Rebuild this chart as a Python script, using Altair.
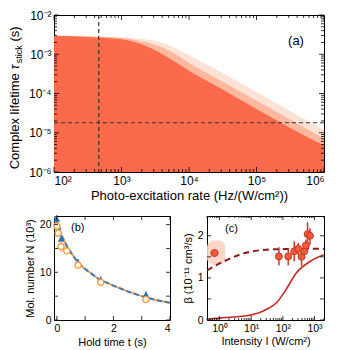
import altair as alt
import pandas as pd

# ---------------- data: panel (a) ----------------
rate = [1e2, 3.16e2, 1e3, 1.78e3, 3.16e3, 5.62e3, 1e4, 3.16e4, 1e5, 3.16e5, 1e6]
tau_dark = [2.95e-3, 2.75e-3, 2.40e-3, 1.91e-3, 1.26e-3, 7.1e-4, 3.8e-4, 1.26e-4, 4.0e-5, 1.32e-5, 4.7e-6]
tau_mid = [2.95e-3, 2.85e-3, 2.63e-3, 2.24e-3, 1.74e-3, 1.12e-3, 6.0e-4, 2.0e-4, 6.6e-5, 2.19e-5, 7.1e-6]
tau_light = [2.95e-3, 2.88e-3, 2.69e-3, 2.51e-3, 2.19e-3, 1.58e-3, 9.5e-4, 3.3e-4, 1.10e-4, 3.6e-5, 1.17e-5]
rate_marker = 460
tau_marker = 1.8e-5

# ---------------- data: panel (b) ----------------
hold_t = [0, 0.05, 0.15, 0.35, 0.75, 1.55, 3.15]
n_blue = [21.2, 19.6, 17.0, 15.0, 12.2, 8.5, 5.4]
n_blue_err = [0.8, 0.8, 0.7, 0.6, 0.6, 0.6, 0.6]
n_orange = [19.7, 18.2, 15.4, 14.5, 11.5, 7.9, 4.3]
n_orange_err = [0.5, 0.5, 1.2, 0.6, 0.5, 0.5, 0.4]
fit_t = [-0.1, 0, 0.1, 0.2, 0.4, 0.75, 1.0, 1.5, 2.0, 2.5, 3.0, 3.5, 4.0]
fit_n = [22.4, 20.5, 18.7, 17.3, 15.0, 12.0, 10.7, 8.5, 7.2, 6.0, 5.0, 4.2, 3.6]

# ---------------- data: panel (c) ----------------
intensity = [0.69, 75, 148, 229, 307, 390, 475, 535, 605, 720]
beta = [1.59, 1.51, 1.51, 1.63, 1.69, 1.50, 1.63, 1.77, 2.04, 2.00]
beta_lo = [1.55, 1.30, 1.30, 1.39, 1.55, 1.28, 1.47, 1.63, 1.75, 1.79]
beta_hi = [1.63, 1.73, 1.67, 1.87, 1.83, 1.67, 1.75, 1.91, 2.32, 2.18]
i_err_lo = [0.52]
i_err_hi = [0.92]
band_i = [0.4, 1.5]
band_beta = [1.31, 1.89]
dash_i = [0.4, 1.44, 4.3, 11, 30, 100, 300, 2000]
dash_beta = [1.18, 1.40, 1.55, 1.63, 1.67, 1.685, 1.69, 1.69]
solid_i = [0.4, 1.13, 2.6, 11.5, 30, 63, 125, 270, 720, 2000]
solid_beta = [0.02, 0.05, 0.07, 0.13, 0.25, 0.41, 0.72, 1.12, 1.39, 1.55]

# ---------------- tick positions ----------------
a_x_major = [1e2, 1e3, 1e4, 1e5, 1e6]
a_x_minor = [k * 10.0 ** d for d in range(2, 6) for k in range(2, 10)]
a_y_major = [1e-6, 1e-5, 1e-4, 1e-3, 1e-2]
a_y_minor = [k * 10.0 ** d for d in range(-6, -2) for k in range(2, 10)]
b_x_major = [0, 1, 2, 3, 4]
b_y_major = [0, 5, 10, 15, 20]
c_x_major = [1, 10, 100, 1000]
c_x_minor = [k * 10.0 ** d for d in range(-1, 4) for k in range(2, 10) if 0.4 <= k * 10.0 ** d <= 2000]
c_y_major = [0, 0.5, 1, 1.5, 2]

FONT = "Liberation Sans"
SUP = str.maketrans("-0123456789", "⁻⁰¹²³⁴⁵⁶⁷⁸⁹")


def pow10_expr(exps):
    expr = "''"
    for e in exps:
        expr = f"round(log(datum.value)/LN10) == {e} ? '10{str(e).translate(SUP)}' : " + expr
    return expr


def frame_ticks(xs, ys, W, H, xmaj, xmin, ymaj, ymin, Lmaj, Lmin):
    out = []
    for vals, L in [(xmaj, Lmaj), (xmin, Lmin)]:
        if not vals:
            continue
        base = alt.Chart(pd.DataFrame({"v": vals})).mark_rule(color="black", strokeWidth=0.8)
        out.append(base.encode(x=alt.X("v:Q", scale=xs), y=alt.value(H - L), y2=alt.value(H)))
        out.append(base.encode(x=alt.X("v:Q", scale=xs), y=alt.value(0), y2=alt.value(L)))
    for vals, L in [(ymaj, Lmaj), (ymin, Lmin)]:
        if not vals:
            continue
        base = alt.Chart(pd.DataFrame({"v": vals})).mark_rule(color="black", strokeWidth=0.8)
        out.append(base.encode(y=alt.Y("v:Q", scale=ys), x=alt.value(0), x2=alt.value(L)))
        out.append(base.encode(y=alt.Y("v:Q", scale=ys), x=alt.value(W - L), x2=alt.value(W)))
    return out


def text_at(label, x, y, size, **kw):
    return alt.Chart(pd.DataFrame({"t": [label]})).mark_text(
        font=FONT, fontSize=size, color="black", **kw
    ).encode(text="t:N", x=alt.value(x), y=alt.value(y))


# ================= panel (a) =================
WA, HA = 270, 157
xa = alt.Scale(type="log", domain=[1e2, 1e6], nice=False)
ya = alt.Scale(type="log", domain=[1e-6, 1e-2], nice=False)
df_a = pd.DataFrame({"rate": rate, "dark": tau_dark, "mid": tau_mid, "light": tau_light})

x_axis_a = alt.Axis(values=a_x_major, labelExpr=pow10_expr([2, 3, 4, 5, 6]), title="Photo-excitation rate (Hz/(W/cm²))",
                    labelFontSize=12, titleFontSize=13, labelPadding=3, titlePadding=3)
y_axis_a = alt.Axis(values=a_y_major, labelExpr=pow10_expr([-6, -5, -4, -3, -2]), title="",
                    labelFontSize=12, labelPadding=3)

areas = []
for col, colr, first in [("light", "#fde3d6", True), ("mid", "#fcb99f", False), ("dark", "#fb6a4a", False)]:
    if first:
        xe = alt.X("rate:Q", scale=xa, axis=x_axis_a)
        ye = alt.Y(f"{col}:Q", scale=ya, axis=y_axis_a)
    else:
        xe = alt.X("rate:Q", scale=xa)
        ye = alt.Y(f"{col}:Q", scale=ya)
    areas.append(alt.Chart(df_a).mark_area(interpolate="monotone", color=colr, opacity=1, clip=True).encode(
        x=xe, y=ye, y2=alt.datum(1e-6)))

vline = alt.Chart(pd.DataFrame({"r": [rate_marker]})).mark_rule(color="#333333", strokeDash=[4, 3], strokeWidth=1.2).encode(
    x=alt.X("r:Q", scale=xa))
hline = alt.Chart(pd.DataFrame({"tm": [tau_marker]})).mark_rule(color="#333333", strokeDash=[4, 3], strokeWidth=1.2).encode(
    y=alt.Y("tm:Q", scale=ya))

title_a = [
    text_at("Complex lifetime", -39, 154.3, 13, angle=270, align="left", baseline="middle"),
    text_at("τ", -39, 54.6, 13, angle=270, align="left", baseline="middle", fontStyle="italic"),
    text_at("stick", -35, 48.2, 9, angle=270, align="left", baseline="middle"),
    text_at("(s)", -39, 26.6, 13, angle=270, align="left", baseline="middle"),
]

panel_a = alt.layer(
    *areas, vline, hline,
    *frame_ticks(xa, ya, WA, HA, a_x_major, a_x_minor, a_y_major, a_y_minor, 5, 3),
    text_at("(a)", 242, 26, 13, align="center", baseline="middle"),
    *title_a,
).properties(width=WA, height=HA)

# ================= panel (b) =================
WB, HB = 116, 104
xb = alt.Scale(domain=[-0.1, 4], nice=False, zero=False)
yb = alt.Scale(domain=[0, 21.8], nice=False)
BLUE = "#2f6fab"
ORANGE = "#f5a04a"
df_b = pd.DataFrame({
    "t": hold_t,
    "nb": n_blue, "nb_lo": [v - e for v, e in zip(n_blue, n_blue_err)], "nb_hi": [v + e for v, e in zip(n_blue, n_blue_err)],
    "no": n_orange, "no_lo": [v - e for v, e in zip(n_orange, n_orange_err)], "no_hi": [v + e for v, e in zip(n_orange, n_orange_err)],
})
df_bf = pd.DataFrame({"t": fit_t, "n": fit_n})

bx_axis = alt.Axis(values=[0, 2, 4], title="Hold time t (s)", labelFontSize=10.5, titleFontSize=11, labelPadding=3, titlePadding=3)
by_axis = alt.Axis(values=[0, 10, 20], title="Mol. number N (10³)", labelFontSize=10.5, titleFontSize=11, labelPadding=3, titlePadding=4)

fit_orange = alt.Chart(df_bf).mark_line(color=ORANGE, strokeWidth=2, clip=True).encode(
    x=alt.X("t:Q", scale=xb, axis=bx_axis), y=alt.Y("n:Q", scale=yb, axis=by_axis))
fit_blue = alt.Chart(df_bf).mark_line(color="#3b7cbc", strokeWidth=2, strokeDash=[5, 3], clip=True).encode(
    x=alt.X("t:Q", scale=xb), y=alt.Y("n:Q", scale=yb))
err_blue = alt.Chart(df_b).mark_rule(color=BLUE, strokeWidth=1.2).encode(
    x=alt.X("t:Q", scale=xb), y=alt.Y("nb_lo:Q", scale=yb), y2="nb_hi:Q")
pts_blue = alt.Chart(df_b).mark_point(shape="triangle-up", filled=True, color=BLUE, size=45, opacity=1).encode(
    x=alt.X("t:Q", scale=xb), y=alt.Y("nb:Q", scale=yb))
err_orange = alt.Chart(df_b).mark_rule(color=ORANGE, strokeWidth=1.2).encode(
    x=alt.X("t:Q", scale=xb), y=alt.Y("no_lo:Q", scale=yb), y2="no_hi:Q")
pts_orange = alt.Chart(df_b).mark_point(shape="circle", filled=True, fill="white", stroke=ORANGE, strokeWidth=1.5,
                                        size=38, opacity=1).encode(
    x=alt.X("t:Q", scale=xb), y=alt.Y("no:Q", scale=yb))
spacer_b = alt.Chart(pd.DataFrame({"s": [0]})).mark_rule(opacity=0).encode(
    x=alt.value(-44.7), y=alt.value(0), y2=alt.value(1))

panel_b = alt.layer(
    fit_orange, fit_blue, err_blue, pts_blue, err_orange, pts_orange,
    *frame_ticks(xb, yb, WB, HB, b_x_major, [], b_y_major, [], 4, 2),
    text_at("(b)", 17, 11.5, 11, align="left", baseline="middle"),
    spacer_b,
).properties(width=WB, height=HB)

# ================= panel (c) =================
WC, HC = 117, 104
xc = alt.Scale(type="log", domain=[0.4, 2000], nice=False)
yc = alt.Scale(domain=[0, 2.47], nice=False)
RED_PT = "#f15a3b"
RED_EDGE = "#c23522"
df_c = pd.DataFrame({"i": intensity, "b": beta, "lo": beta_lo, "hi": beta_hi})
df_band = pd.DataFrame({"i": [band_i[0]], "i2": [band_i[1]], "b": [band_beta[0]], "b2": [band_beta[1]]})
df_herr = pd.DataFrame({"i": i_err_lo, "i2": i_err_hi, "b": [beta[0]]})
df_dash = pd.DataFrame({"i": dash_i, "b": dash_beta})
df_solid = pd.DataFrame({"i": solid_i, "b": solid_beta})

cx_axis = alt.Axis(values=c_x_major, labelExpr=pow10_expr([0, 1, 2, 3]), title="Intensity I (W/cm²)",
                   labelFontSize=10.5, titleFontSize=11, labelPadding=3, titlePadding=2)
cy_axis = alt.Axis(values=[0, 1, 2], title="β (10⁻¹¹ cm³/s)", labelFontSize=10.5, titleFontSize=11,
                   labelPadding=4, titlePadding=4)

band = alt.Chart(df_band).mark_rect(color="#fcd3c2", cornerRadius=7, opacity=0.9).encode(
    x=alt.X("i:Q", scale=xc, axis=cx_axis), x2="i2:Q", y=alt.Y("b:Q", scale=yc, axis=cy_axis), y2="b2:Q")
solid = alt.Chart(df_solid).mark_line(color="#c62a25", strokeWidth=1.6, interpolate="monotone", clip=True).encode(
    x=alt.X("i:Q", scale=xc), y=alt.Y("b:Q", scale=yc))
dashed = alt.Chart(df_dash).mark_line(color="#8e1b1b", strokeWidth=2, strokeDash=[6, 4], interpolate="monotone", clip=True).encode(
    x=alt.X("i:Q", scale=xc), y=alt.Y("b:Q", scale=yc))
err_c = alt.Chart(df_c).mark_rule(color="#c8392a", strokeWidth=1.5).encode(
    x=alt.X("i:Q", scale=xc), y=alt.Y("lo:Q", scale=yc), y2="hi:Q")
herr_c = alt.Chart(df_herr).mark_rule(color="#c8392a", strokeWidth=1.5).encode(
    x=alt.X("i:Q", scale=xc), x2="i2:Q", y=alt.Y("b:Q", scale=yc))
pts_c = alt.Chart(df_c).mark_point(shape="circle", filled=True, fill=RED_PT, stroke=RED_EDGE, strokeWidth=1,
                                   size=48, opacity=1).encode(
    x=alt.X("i:Q", scale=xc), y=alt.Y("b:Q", scale=yc))

panel_c = alt.layer(
    band, solid, dashed, err_c, herr_c, pts_c,
    *frame_ticks(xc, yc, WC, HC, c_x_major, c_x_minor, c_y_major, [], 4, 2),
    text_at("(c)", 18, 13, 11, align="left", baseline="middle"),
).properties(width=WC, height=HC)

chart = alt.vconcat(
    alt.hconcat(panel_a),
    alt.hconcat(panel_b, panel_c, spacing=10),
    spacing=10,
).properties(padding=0).configure(font=FONT).configure_view(
    stroke="black", strokeWidth=1
).configure_axis(
    domain=False, ticks=False, tickSize=0, grid=False, labelColor="black", titleColor="black",
    labelFont=FONT, titleFont=FONT, titleFontWeight="normal"
)

chart.save("out.html", embed_options={"renderer": "svg", "actions": False})
